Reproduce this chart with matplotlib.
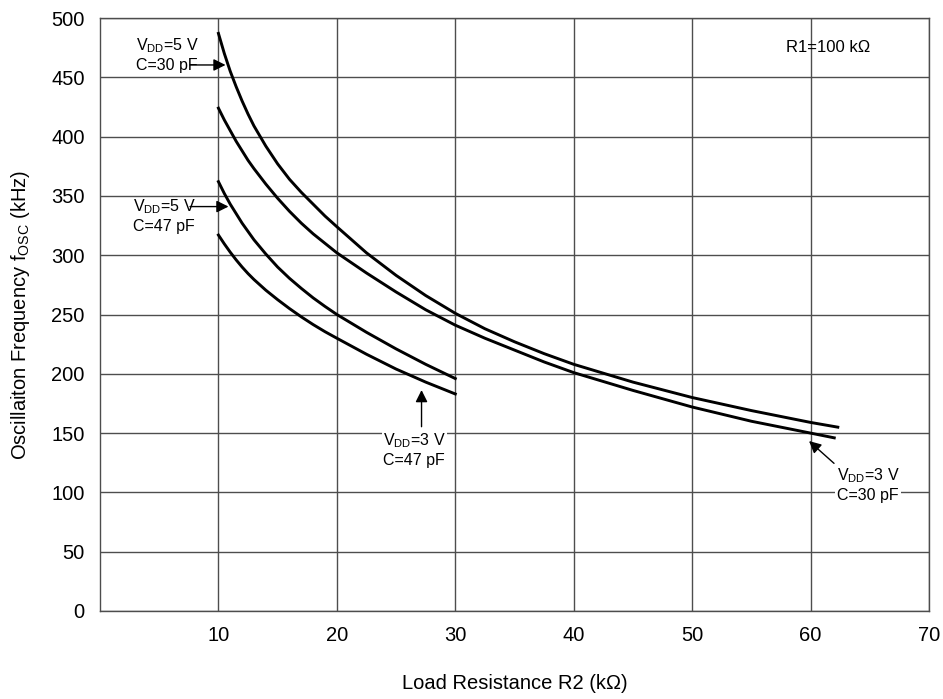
import matplotlib
matplotlib.use("Agg")
import matplotlib.pyplot as plt

plt.rcParams['font.family'] = ['Liberation Sans', 'DejaVu Sans']
plt.rcParams['mathtext.default'] = 'regular'

# Load resistance R2 (kOhm) and oscillation frequency (kHz)
r2_5v_30pf = [10, 10.5, 11, 11.5, 12, 12.5, 13, 14, 15, 16, 17, 18, 19, 20, 22.5, 25, 27.5,
              30, 32.5, 35, 37.5, 40, 45, 50, 55, 60, 62.3]
f_5v_30pf = [487, 470, 455, 442, 430, 419, 409, 392, 377, 364, 353, 343, 333, 324, 302, 283, 266,
             251, 238, 227, 217, 208, 193, 180, 169, 159, 155]

r2_3v_30pf = [10, 10.5, 11, 11.5, 12, 12.5, 13, 14, 15, 16, 17, 18, 19, 20, 22.5, 25, 27.5,
              30, 32.5, 35, 37.5, 40, 45, 50, 55, 60, 62]
f_3v_30pf = [424, 414, 405, 396, 388, 380, 373, 360, 348, 337, 327, 318, 310, 302, 285, 269, 254,
             241, 230, 220, 210, 201, 186, 172, 160, 150, 146]

r2_5v_47pf = [10, 10.5, 11, 11.5, 12, 12.5, 13, 14, 15, 16, 17, 18, 19, 20, 22.5, 25, 27.5, 30]
f_5v_47pf = [362, 352, 343, 335, 327, 320, 313, 301, 290, 280.5, 272, 264, 256.8, 250, 235, 221, 208, 196]

r2_3v_47pf = [10, 10.5, 11, 11.5, 12, 12.5, 13, 14, 15, 16, 17, 18, 19, 20, 22.5, 25, 27.5, 30]
f_3v_47pf = [317, 309.5, 302.5, 296, 290, 284.5, 279.5, 270.5, 262.5, 255, 248, 241.5, 235.5, 230,
             216.5, 204, 193, 183]

x_ticks = [10, 20, 30, 40, 50, 60, 70]
y_ticks = [0, 50, 100, 150, 200, 250, 300, 350, 400, 450, 500]

fig = plt.figure(figsize=(9.43, 6.99), dpi=100)
ax = fig.add_axes([100/943, 1-611/699, 829/943, 593/699])

ax.set_xlim(0, 70)
ax.set_ylim(0, 500)
ax.set_xticks(x_ticks)
ax.set_yticks(y_ticks)
ax.tick_params(length=0, labelsize=14.5)
ax.tick_params(axis='x', pad=11)
ax.tick_params(axis='y', pad=11)
ax.grid(True, color='#4d4d4d', lw=1.0)
ax.set_axisbelow(True)
for s in ax.spines.values():
    s.set_color('#4d4d4d')
    s.set_linewidth(1.0)

lw = 2.1
ax.plot(r2_5v_30pf, f_5v_30pf, color='black', lw=lw)
ax.plot(r2_3v_30pf, f_3v_30pf, color='black', lw=lw)
ax.plot(r2_5v_47pf, f_5v_47pf, color='black', lw=lw)
ax.plot(r2_3v_47pf, f_3v_47pf, color='black', lw=lw)

ax.set_xlabel('Load Resistance R2 (k\u03a9)', fontsize=14.5, labelpad=21)
ax.set_ylabel('Oscillaiton Frequency f$_{OSC}$ (kHz)', fontsize=14.5, labelpad=14)

fs = 11.5
bbox = dict(facecolor='white', edgecolor='none', pad=1)
ax.text(3.0, 468.8, 'V$_{DD}$=5 V\nC=30 pF', fontsize=fs, va='center', ha='left', linespacing=1.25)
ax.text(2.75, 333.3, 'V$_{DD}$=5 V\nC=47 pF', fontsize=fs, va='center', ha='left', linespacing=1.25)
ax.text(23.9, 135.8, 'V$_{DD}$=3 V\nC=47 pF', fontsize=fs, va='center', ha='left', linespacing=1.25, bbox=bbox)
ax.text(62.2, 106.2, 'V$_{DD}$=3 V\nC=30 pF', fontsize=fs, va='center', ha='left', linespacing=1.25, bbox=bbox)
ax.text(57.9, 475.5, 'R1=100 k\u03a9', fontsize=12, va='center', ha='left')

ap = dict(arrowstyle='-|>', color='black', lw=1, mutation_scale=18, shrinkA=0, shrinkB=0)
ax.annotate('', xy=(10.6, 460.4), xytext=(7.6, 460.4), arrowprops=ap)
ax.annotate('', xy=(10.85, 341), xytext=(7.6, 341), arrowprops=ap)
ax.annotate('', xy=(27.15, 186.3), xytext=(27.15, 155.4), arrowprops=ap)
ax.annotate('', xy=(59.87, 143.3), xytext=(61.98, 124.5), arrowprops=ap)

fig.savefig('out.png', dpi=100)
